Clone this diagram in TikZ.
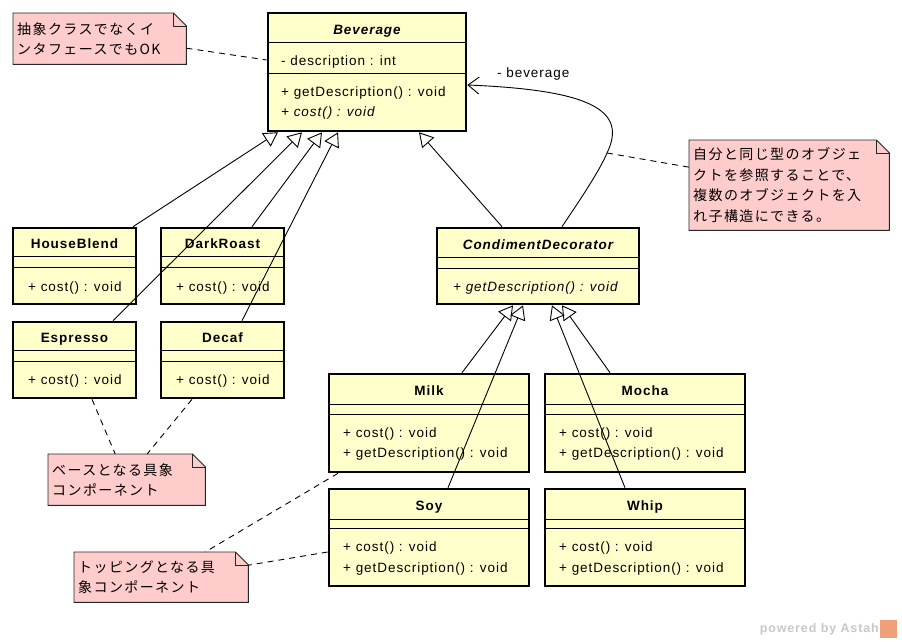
\documentclass[tikz,border=0pt]{standalone}
\usepackage{fontspec}
\setmainfont{Liberation Sans}[LetterSpace=7]
\newfontfamily\jpfont{Noto Sans CJK JP}[LetterSpace=10]
\usetikzlibrary{arrows.meta,calc,backgrounds}

\definecolor{classfill}{RGB}{255,255,204}
\definecolor{notefill}{RGB}{255,204,204}
\definecolor{wmgray}{RGB}{200,200,200}
\definecolor{astahorange}{RGB}{240,160,120}

\tikzset{
  cls/.style={draw, line width=2.6pt, fill=classfill, inner sep=0pt},
  sep/.style={line width=0.9pt},
  ctitle/.style={font=\fontsize{13.5}{15}\selectfont\bfseries, inner sep=0pt,
    text height=10pt, text depth=3pt, yshift=-1pt},
  member/.style={font=\fontsize{13.5}{15}\selectfont, anchor=west, inner sep=0pt,
    text height=10pt, text depth=3pt, yshift=-1pt},
  note/.style={inner xsep=4pt, inner ysep=0pt, align=left, anchor=north west,
    font=\jpfont\fontsize{14}{20.5}\selectfont},
  notebg/.style={fill=notefill, draw=black!85, line width=0.9pt},
  gen/.style={line width=0.9pt, -{Triangle[open, length=14pt, width=16pt, fill=white]}},
  assoc/.style={line width=0.9pt, -{Straight Barb[length=11pt, width=17pt]}},
  anchorline/.style={line width=0.9pt, dash pattern=on 6pt off 5pt},
}

% class box: name, left, top, right, bottom
\newcommand{\clsbox}[5]{%
  \node[cls, minimum width=#4-#2, minimum height=#5-#3] (#1) at ({(#2+#4)/2},{(#3+#5)/2}) {};}
% compartment separators: name, first offset, second offset
\newcommand{\clsseps}[3]{%
  \draw[sep] ($(#1.north west)+(0,#2)$) -- ($(#1.north east)+(0,#2)$);
  \draw[sep] ($(#1.north west)+(0,#3)$) -- ($(#1.north east)+(0,#3)$);}
% note background with folded corner
\newcommand{\notebox}[1]{%
  \begin{scope}[on background layer]
    \draw[notebg] (#1.north west) -- ($(#1.north east)+(-13,0)$) -- ($(#1.north east)+(0,13)$)
      -- (#1.south east) -- (#1.south west) -- cycle;
    \draw[notebg, fill=none] ($(#1.north east)+(-13,0)$) |- ($(#1.north east)+(0,13)$);
  \end{scope}}

\begin{document}
\begin{tikzpicture}[x=1pt, y=-1pt]
\begin{scope}[on background layer]
  \fill[white] (0,0) rectangle (902,642);
\end{scope}
\useasboundingbox (0,0) rectangle (902,642);

% ---- classes ----
\clsbox{Bev}{268}{13}{466}{131}
\clsseps{Bev}{31}{62}
\node[ctitle, font=\fontsize{13.5}{15}\selectfont\bfseries\itshape] (BevT) at (367,30) {Beverage};
\node[member] (BevA) at (281,61) {- description : int};
\node[member] (BevM1) at (281,92) {+ getDescription() : void};
\node[member, font=\fontsize{13.5}{15}\selectfont\itshape] (BevM2) at (281,112) {+ cost() : void};

\clsbox{HB}{13}{228}{136}{304}
\clsseps{HB}{30}{41}
\node[ctitle] (HBT) at (74.5,244) {HouseBlend};
\node[member] (HBM) at (28,287) {+ cost() : void};

\clsbox{DR}{161}{228}{284}{304}
\clsseps{DR}{30}{41}
\node[ctitle] (DRT) at (222.5,244) {DarkRoast};
\node[member] (DRM) at (176,287) {+ cost() : void};

\clsbox{Esp}{13}{322}{136}{398}
\clsseps{Esp}{30}{41}
\node[ctitle] (EspT) at (74.5,338) {Espresso};
\node[member] (EspM) at (28,380) {+ cost() : void};

\clsbox{Decaf}{161}{322}{284}{398}
\clsseps{Decaf}{30}{41}
\node[ctitle] (DecafT) at (222.5,338) {Decaf};
\node[member] (DecafM) at (176,380) {+ cost() : void};

\clsbox{CD}{437}{228}{639}{304}
\clsseps{CD}{31}{42}
\node[ctitle, font=\fontsize{13.5}{15}\selectfont\bfseries\itshape] (CDT) at (538,245) {CondimentDecorator};
\node[member, font=\fontsize{13.5}{15}\selectfont\itshape] (CDM) at (453,287) {+ getDescription() : void};

\clsbox{Milk}{329}{374}{529}{472}
\clsseps{Milk}{32}{42}
\node[ctitle] (MilkT) at (429,391) {Milk};
\node[member] (MilkM1) at (343,433) {+ cost() : void};
\node[member] (MilkM2) at (343,453) {+ getDescription() : void};

\clsbox{Mocha}{545}{374}{745}{472}
\clsseps{Mocha}{32}{42}
\node[ctitle] (MochaT) at (645,391) {Mocha};
\node[member] (MochaM1) at (559,433) {+ cost() : void};
\node[member] (MochaM2) at (559,453) {+ getDescription() : void};

\clsbox{Soy}{329}{489}{529}{586}
\clsseps{Soy}{32}{41}
\node[ctitle] (SoyT) at (429,506) {Soy};
\node[member] (SoyM1) at (343,547) {+ cost() : void};
\node[member] (SoyM2) at (343,568) {+ getDescription() : void};

\clsbox{Whip}{545}{489}{745}{586}
\clsseps{Whip}{32}{41}
\node[ctitle] (WhipT) at (645,506) {Whip};
\node[member] (WhipM1) at (559,547) {+ cost() : void};
\node[member] (WhipM2) at (559,568) {+ getDescription() : void};

% ---- notes ----
\node[note, text width=165, minimum height=51] (n1) at (13,13) {抽象クラスでなくイ\\ンタフェースでもOK};
\notebox{n1}
\node[note, text width=192, minimum height=90] (n2) at (689,140) {自分と同じ型のオブジェ\\クトを参照することで、\\複数のオブジェクトを入\\れ子構造にできる。};
\notebox{n2}
\node[note, text width=149, minimum height=51] (n3) at (48,454) {ベースとなる具象\\コンポーネント};
\notebox{n3}
\node[note, text width=166, minimum height=50] (n4) at (74,552) {トッピングとなる具\\象コンポーネント};
\notebox{n4}

% ---- generalizations ----
\draw[gen] ($(HB.north)+(58.5,0)$) -- ($(Bev.south)+(-89,0)$);
\draw[gen] ($(DR.north)+(29.5,0)$) -- ($(Bev.south)+(-45,0)$);
\draw[gen] ($(Esp.north)+(38.5,0)$) -- ($(Bev.south)+(-65,0)$);
\draw[gen] ($(Decaf.north)+(19.5,0)$) -- ($(Bev.south)+(-29,0)$);
\draw[gen] ($(CD.north)+(-36,0)$) -- ($(Bev.south)+(52,0)$);
\draw[gen] ($(Milk.north)+(33,0)$) -- ($(CD.south)+(-25,0)$);
\draw[gen] ($(Soy.north)+(19,0)$) -- ($(CD.south)+(-15,0)$);
\draw[gen] ($(Mocha.north)+(-35,0)$) -- ($(CD.south)+(24,0)$);
\draw[gen] ($(Whip.north)+(-20,0)$) -- ($(CD.south)+(14,0)$);

% ---- association back to the component ----
\coordinate (am) at (607,153);
\draw[assoc] ($(CD.north)+(24,0)$) .. controls (580,200) and (600,170) .. (am)
  .. controls (628,110) and (590,90) .. ($(Bev.east)+(0,13)$);
\node[member] (role) at (497,73) {- beverage};

% ---- note anchors ----
\draw[anchorline] ($(n1.east)+(0,9.5)$) -- ($(Bev.west)+(0,-12)$);
\draw[anchorline] (am) -- ($(n2.west)+(0,-18)$);
\draw[anchorline] ($(Esp.south)+(17.5,0)$) -- ($(n3.north)+(-11.5,0)$);
\draw[anchorline] ($(Decaf.south)+(-30.5,0)$) -- ($(n3.north)+(20.5,0)$);
\draw[anchorline] ($(Milk.south)+(-91,0)$) -- ($(n4.north)+(44,0)$);
\draw[anchorline] ($(Soy.west)+(0,14.5)$) -- ($(n4.east)+(0,-12)$);

% ---- tool mark ----
\node[anchor=east, inner sep=0pt, text=wmgray, font=\fontsize{12.5}{14}\selectfont\bfseries] (wm) at (879,629) {powered by Astah};
\fill[astahorange] (880,620) rectangle (897,638);
\end{tikzpicture}
\end{document}
